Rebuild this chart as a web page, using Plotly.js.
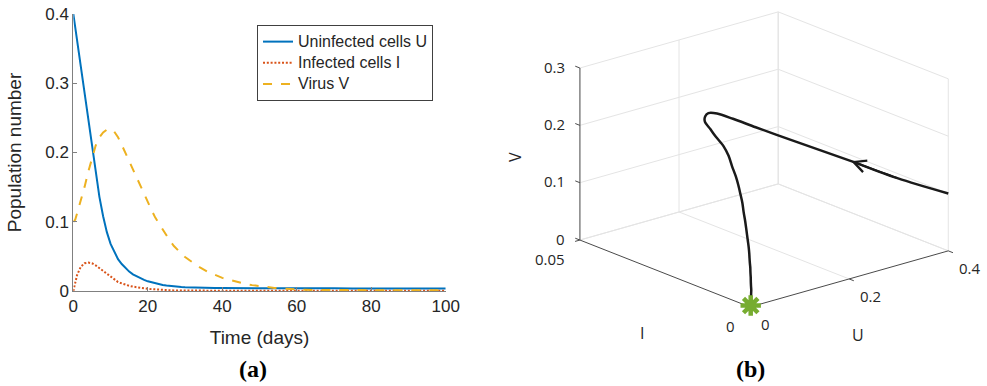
<!DOCTYPE html>
<html>
<head>
<meta charset="utf-8">
<script src="https://cdn.plot.ly/plotly-3.0.1.min.js"></script>
<style>
  html, body { margin: 0; padding: 0; background: #ffffff; }
  #chart { width: 987px; height: 386px; }
</style>
</head>
<body>
<div id="chart"></div>
<script>
// Time course of the infection model (days) and the three populations.
const days = [0, 0.5, 1, 2, 3, 4, 5, 6, 7, 8, 9, 10, 11, 12, 13, 14, 15, 16, 17, 18, 19, 20,
  21, 22, 23, 24, 25, 26, 27, 28, 29, 30, 32, 34, 36, 38, 40, 42, 44, 46, 48, 50,
  52, 54, 56, 58, 60, 65, 70, 75, 80, 90, 100];

const uninfected = [0.400, 0.381, 0.362, 0.324, 0.286, 0.247, 0.208, 0.170, 0.136, 0.108, 0.085, 0.068,
  0.056, 0.046, 0.039, 0.033, 0.028, 0.024, 0.021, 0.018, 0.016, 0.014,
  0.0125, 0.011, 0.0098, 0.0088, 0.0080, 0.0073, 0.0068, 0.0063, 0.0059, 0.0056,
  0.0051, 0.0048, 0.0046, 0.0044, 0.0043, 0.0042, 0.0041, 0.0041, 0.0040, 0.0040,
  0.0040, 0.0040, 0.0039, 0.0039, 0.0039, 0.0038, 0.0038, 0.0037, 0.0037, 0.0036, 0.0035];

const infected = [0, 0.012, 0.023, 0.035, 0.040, 0.041, 0.040, 0.037, 0.033, 0.029, 0.024, 0.020,
  0.016, 0.013, 0.011, 0.009, 0.0075, 0.0063, 0.0053, 0.0045, 0.0038, 0.0032,
  0.0027, 0.0022, 0.0018, 0.0015, 0.0013, 0.0011, 0.0009, 0.0008, 0.0007, 0.0006,
  0.0005, 0.0004, 0.0003, 0.0003, 0.0003, 0.0003, 0.0003, 0.0003, 0.0003, 0.0003,
  0.0003, 0.0003, 0.0003, 0.0003, 0.0003, 0.0003, 0.0003, 0.0003, 0.0003, 0.0003, 0.0003];

const virus = [0.100, 0.103, 0.112, 0.130, 0.150, 0.172, 0.193, 0.210, 0.222, 0.229, 0.233, 0.234,
  0.230, 0.222, 0.211, 0.199, 0.188, 0.176, 0.164, 0.151, 0.139, 0.128,
  0.117, 0.106, 0.097, 0.088, 0.080, 0.072, 0.065, 0.059, 0.054, 0.049,
  0.041, 0.034, 0.028, 0.023, 0.019, 0.016, 0.013, 0.0105, 0.0085, 0.0068,
  0.0055, 0.0045, 0.0036, 0.0028, 0.0022, 0.0015, 0.0012, 0.0010, 0.0010, 0.0010, 0.0010];

const seriesNames = ['Uninfected cells U', 'Infected cells I', 'Virus V'];
const timeTicks = [0, 20, 40, 60, 80, 100];
const popTicks = [0, 0.1, 0.2, 0.3, 0.4];
const uTicks = [0, 0.2, 0.4];
const uTickText = ['0', '0.2', '0.4'];
const iTicks = [0, 0.05];
const iTickText = ['0', '0.05'];
const vTicks = [0, 0.1, 0.2, 0.3];
const vTickText = ['0', '0.1', '0.2', '0.3'];
const uMax = 0.4, iMax = 0.05, vMax = 0.3;

// ---- Phase-space panel: orthographic view of the (U, I, V) box ----
const view = { az: 40.3, el: 19.5 };            // degrees
const boxLen = { u: 260, i: 263, v: 182.5 };    // box edge lengths, screen units
const AZ = view.az * Math.PI / 180, EL = view.el * Math.PI / 180;

function project(u, i, v) {
  const bu = boxLen.u * u / uMax, bi = boxLen.i * i / iMax, bv = boxLen.v * v / vMax;
  return [bu * Math.cos(AZ) - bi * Math.sin(AZ),
          (bu * Math.sin(AZ) + bi * Math.cos(AZ)) * Math.sin(EL) + bv * Math.cos(EL)];
}

// Collect 3D segments into one x/y polyline with gaps.
function segments(list) {
  const xs = [], ys = [];
  list.forEach(([a, b]) => {
    const p = project(...a), q = project(...b);
    xs.push(p[0], q[0], null); ys.push(p[1], q[1], null);
  });
  return { x: xs, y: ys };
}

// Grid on the three back planes (I = max, U = max, V = 0)
const gridSegs = [];
vTicks.forEach(v => gridSegs.push([[0, iMax, v], [uMax, iMax, v]]));
uTicks.forEach(u => { if (u > 0) gridSegs.push([[u, iMax, 0], [u, iMax, vMax]]); });
vTicks.forEach(v => gridSegs.push([[uMax, 0, v], [uMax, iMax, v]]));
iTicks.forEach(i => gridSegs.push([[uMax, i, 0], [uMax, i, vMax]]));
uTicks.forEach(u => { if (u > 0) gridSegs.push([[u, 0, 0], [u, iMax, 0]]); });
iTicks.forEach(i => { if (i > 0) gridSegs.push([[0, i, 0], [uMax, i, 0]]); });
const grid = segments(gridSegs);

// Front axis edges
const frontAxes = segments([[[0, 0, 0], [0, iMax, 0]], [[0, 0, 0], [uMax, 0, 0]]]);
const vAxis = segments([[[0, iMax, 0], [0, iMax, vMax]]]);

// Tick marks (5 screen units long)
const O = project(0, 0, 0);
const PU = project(uMax, 0, 0), PI = project(0, iMax, 0);
const unit = (p) => { const n = Math.hypot(p[0] - O[0], p[1] - O[1]); return [(p[0] - O[0]) / n, (p[1] - O[1]) / n]; };
const dirU = unit(PU), dirI = unit(PI);
const TL = 5;
const tx = [], ty = [];
function tick(p, d) { tx.push(p[0], p[0] + d[0] * TL, null); ty.push(p[1], p[1] + d[1] * TL, null); }
vTicks.forEach(v => tick(project(0, iMax, v), dirI));
uTicks.forEach(u => tick(project(u, 0, 0), [-dirI[0], -dirI[1]]));
iTicks.forEach(i => tick(project(0, i, 0), [-dirU[0], -dirU[1]]));

// Trajectory
const traj = uninfected.map((u, k) => project(u, infected[k], virus[k]));
const arrowIdx = days.indexOf(1);
const tailIdx = days.indexOf(0.5);
const last = days.length - 1;

const INK = '#262626';
const AXIS = '#808080';
const SANS = 'Liberation Sans, Arial, sans-serif';
const SANS3D = 'Open Sans, Noto Sans, sans-serif';
const legendName = (s) => '<span style="font-size:16px">' + s + '</span>';

const traces = [
  { type: 'scatter', mode: 'lines', x: days, y: uninfected, name: legendName(seriesNames[0]),
    line: { color: '#0072BD', width: 2 } },
  { type: 'scatter', mode: 'lines', x: days, y: infected, name: legendName(seriesNames[1]),
    line: { color: '#D95319', width: 2, dash: '2px,1.8px' } },
  { type: 'scatter', mode: 'lines', x: days, y: virus, name: legendName(seriesNames[2]),
    line: { color: '#EDB120', width: 2, dash: '9px,9px' } },

  { type: 'scatter', mode: 'lines', xaxis: 'x2', yaxis: 'y2', showlegend: false, hoverinfo: 'skip',
    x: grid.x, y: grid.y, line: { color: '#e4e4e4', width: 1 } },
  { type: 'scatter', mode: 'lines', xaxis: 'x2', yaxis: 'y2', showlegend: false, hoverinfo: 'skip',
    x: frontAxes.x, y: frontAxes.y, line: { color: '#4a4a4a', width: 1 } },
  { type: 'scatter', mode: 'lines', xaxis: 'x2', yaxis: 'y2', showlegend: false, hoverinfo: 'skip',
    x: vAxis.x, y: vAxis.y, line: { color: '#7a7a7a', width: 1.4 } },
  { type: 'scatter', mode: 'lines', xaxis: 'x2', yaxis: 'y2', showlegend: false, hoverinfo: 'skip',
    x: tx, y: ty, line: { color: '#4a4a4a', width: 1 } },
  { type: 'scatter', mode: 'lines', xaxis: 'x2', yaxis: 'y2', showlegend: false, hoverinfo: 'skip',
    x: traj.map(p => p[0]), y: traj.map(p => p[1]),
    line: { color: '#1a1a1a', width: 2.5, shape: 'spline', smoothing: 0.8 } },
  { type: 'scatter', mode: 'markers', xaxis: 'x2', yaxis: 'y2', showlegend: false, hoverinfo: 'skip',
    x: [traj[last][0]], y: [traj[last][1]],
    marker: { symbol: 'asterisk-open', size: 17, color: '#77AC30', line: { color: '#77AC30', width: 4.5 } } }
];

// Tick labels of the box axes
const boxLabels = [];
vTicks.forEach((v, k) => { const p = project(0, iMax, v);
  boxLabels.push({ x: p[0], y: p[1], text: vTickText[k], xanchor: 'right', xshift: -14, yshift: 1.5 }); });
iTicks.forEach((i, k) => { const p = project(0, i, 0);
  boxLabels.push({ x: p[0], y: p[1], text: iTickText[k], xanchor: 'right', xshift: -14, yshift: -18.5 }); });
uTicks.forEach((u, k) => { const p = project(u, 0, 0);
  boxLabels.push({ x: p[0], y: p[1], text: uTickText[k], xanchor: 'left', xshift: 10, yshift: -17 }); });

const annotations = boxLabels.map(b => Object.assign({
  xref: 'x2', yref: 'y2', showarrow: false, yanchor: 'middle', borderpad: 0,
  font: { family: SANS3D, size: 15, color: INK }
}, b));

annotations.push({
  xref: 'x2', yref: 'y2', axref: 'x2', ayref: 'y2',
  x: traj[arrowIdx][0], y: traj[arrowIdx][1], ax: traj[tailIdx][0], ay: traj[tailIdx][1],
  text: '', showarrow: true, arrowhead: 5, arrowsize: 1.2, arrowwidth: 2, arrowcolor: '#1a1a1a', standoff: 0
});

const serif = 'Liberation Serif, Times New Roman, serif';
annotations.push(
  { xref: 'paper', yref: 'paper', x: 0.2563, y: 0.044, text: '<b>(a)</b>', showarrow: false,
    xanchor: 'center', yanchor: 'middle', font: { family: serif, size: 24, color: '#000' } },
  { xref: 'paper', yref: 'paper', x: 0.7606, y: 0.044, text: '<b>(b)</b>', showarrow: false,
    xanchor: 'center', yanchor: 'middle', font: { family: serif, size: 24, color: '#000' } },
  { xref: 'paper', yref: 'paper', x: 0.5218, y: 0.593, text: 'V', textangle: -90, showarrow: false,
    xanchor: 'center', yanchor: 'middle', font: { family: SANS3D, size: 16, color: INK } },
  { xref: 'paper', yref: 'paper', x: 0.6505, y: 0.1373, text: 'I', showarrow: false,
    xanchor: 'center', yanchor: 'middle', font: { family: SANS3D, size: 16, color: INK } },
  { xref: 'paper', yref: 'paper', x: 0.8693, y: 0.1321, text: 'U', showarrow: false,
    xanchor: 'center', yanchor: 'middle', font: { family: SANS3D, size: 16, color: INK } }
);

const layout = {
  width: 987, height: 386,
  margin: { l: 0, r: 0, t: 0, b: 0, autoexpand: false },
  paper_bgcolor: '#ffffff', plot_bgcolor: 'rgba(0,0,0,0)',
  font: { family: SANS, color: INK },
  showlegend: true,
  legend: {
    x: 0.2604, y: 0.9352, xanchor: 'left', yanchor: 'top',
    bgcolor: '#ffffff', bordercolor: '#404040', borderwidth: 1,
    font: { family: SANS, size: 14, color: INK }, tracegroupgap: 0
  },
  xaxis: {
    domain: [0.0743, 0.4516], range: [0, 100], autorange: false,
    tickmode: 'array', tickvals: timeTicks,
    ticks: 'inside', ticklen: 4, tickcolor: AXIS,
    showline: true, linecolor: AXIS, linewidth: 1, showgrid: false, zeroline: false,
    tickfont: { family: SANS, size: 17, color: INK },
    title: { text: 'Time (days)', font: { family: SANS, size: 19, color: INK }, standoff: 15 },
    fixedrange: true
  },
  yaxis: {
    domain: [0.2461, 0.9637], range: [0, 0.4], autorange: false,
    tickmode: 'array', tickvals: popTicks,
    ticks: 'inside', ticklen: 4, tickcolor: AXIS,
    showline: true, linecolor: AXIS, linewidth: 1, showgrid: false, zeroline: false,
    tickfont: { family: SANS, size: 17, color: INK },
    title: { text: 'Population number', font: { family: SANS, size: 19, color: INK }, standoff: 18 },
    fixedrange: true
  },
  xaxis2: { domain: [500 / 987, 1], range: [-250, 237], autorange: false, visible: false,
    anchor: 'y2', fixedrange: true },
  yaxis2: { domain: [0, 1], range: [-79, 307], autorange: false, visible: false,
    anchor: 'x2', fixedrange: true },
  annotations: annotations
};

Plotly.newPlot('chart', traces, layout, { staticPlot: true, displayModeBar: false });
</script>
</body>
</html>
